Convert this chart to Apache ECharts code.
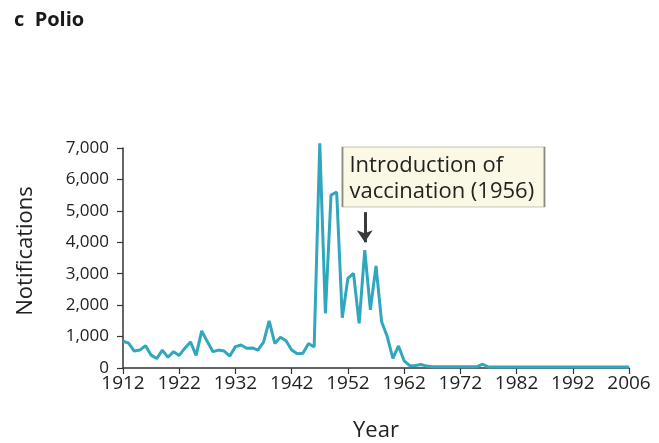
<!DOCTYPE html>
<html>
<head>
<meta charset="utf-8">
<script src="https://cdn.jsdelivr.net/npm/echarts@6/dist/echarts.min.js"></script>
<style>
  html, body { margin: 0; padding: 0; background: #fff; }
  #polio { width: 659px; height: 443px; }
</style>
</head>
<body>
<div id="polio"></div>
<script>
// years on the axis: yearly to 1992, then the last ten plotted years
const years = []
for (let y = 1912; y <= 1992; y++) years.push(String(y))
const tailYears = ['1997', '1998', '1999', '2000', '2001', '2002', '2003', '2004', '2005', '2006']
tailYears.forEach(y => years.push(y))

// notifications per year
const notifications = [
  850, 790, 540, 570, 710, 410, 300, 570, 340, 520,       // 1912-1921
  400, 630, 830, 400, 1180, 840, 520, 570, 540, 380,      // 1922-1931
  680, 730, 630, 640, 570, 820, 1500, 780, 980, 870,      // 1932-1941
  570, 450, 470, 780, 670, 7150, 1740, 5500, 5600, 1600,  // 1942-1951
  2850, 3010, 1420, 3750, 1850, 3250, 1470, 1000, 310, 700, // 1952-1961
  230, 75, 80, 110, 60, 40, 40, 40, 40, 40,               // 1962-1971
  40, 40, 40, 40, 120, 30, 30, 30, 30, 30,                // 1972-1981
  30, 30, 30, 30, 30, 30, 30, 30, 30, 30,                 // 1982-1991
  30, 30, 30, 30, 30, 30, 30, 30, 30, 30, 30              // 1992-2006
]

const yTicks = [0, 1000, 2000, 3000, 4000, 5000, 6000, 7000]

const note = 'Introduction of\nvaccination (1956)'

const chart = echarts.init(document.getElementById('polio'))
const font = '"Open Sans", sans-serif'

const option = {
  animation: false,
  textStyle: { fontFamily: font },
  title: {
    text: 'c  Polio',
    left: 9,
    top: 5,
    textStyle: { fontSize: 20, fontWeight: 'bold', color: '#1a1a1a', fontFamily: font }
  },
  grid: { left: 123, right: 30, top: 148, bottom: 75 },
  xAxis: {
    type: 'category',
    data: years,
    boundaryGap: false,
    name: 'Year',
    nameLocation: 'middle',
    nameGap: 52,
    nameTextStyle: { fontSize: 22, color: '#222' },
    axisLine: { lineStyle: { color: '#333', width: 1.5 } },
    axisTick: { interval: 9, length: 6, lineStyle: { color: '#333', width: 1.2 } },
    axisLabel: { interval: 9, fontSize: 19, color: '#222', margin: 6 }
  },
  yAxis: {
    type: 'value',
    min: yTicks[0],
    max: yTicks[yTicks.length - 1],
    interval: 1000,
    name: 'Notifications',
    nameLocation: 'middle',
    nameGap: 86,
    nameTextStyle: { fontSize: 22, color: '#222', padding: [0, 0, 0, 14] },
    splitLine: { show: false },
    axisLine: { show: true, lineStyle: { color: '#333', width: 1.5 } },
    axisTick: { show: true, length: 6, lineStyle: { color: '#333', width: 1.2 } },
    axisLabel: {
      fontSize: 17,
      color: '#222',
      margin: 14,
      formatter: v => v.toLocaleString('en-US')
    }
  },
  series: [
    {
      type: 'line',
      data: notifications,
      symbol: 'none',
      clip: false,
      lineStyle: { color: '#30a6bf', width: 3 },
      markLine: {
        silent: true,
        symbol: ['none', 'arrow'],
        symbolSize: [12, 12],
        label: { show: false },
        lineStyle: { color: '#3a3a3a', width: 3, type: 'solid' },
        data: [[{ coord: ['1955', 4960] }, { coord: ['1955', 4000] }]]
      },
      markPoint: {
        silent: true,
        symbol: 'rect',
        symbolSize: [202, 60],
        itemStyle: { color: '#fbf8e6', borderColor: '#8a8a80', borderWidth: 1 },
        label: {
          show: true,
          position: 'inside',
          align: 'left',
          offset: [-94, 2],
          fontSize: 22,
          lineHeight: 26,
          color: '#222',
          fontFamily: font,
          formatter: note
        },
        data: [{ coord: ['1969', 6080] }]
      }
    }
  ]
}

option && chart.setOption(option)
</script>
</body>
</html>
